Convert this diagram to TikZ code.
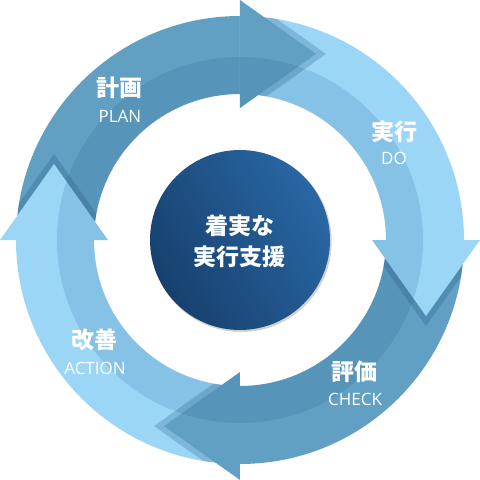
\documentclass[tikz,border=0pt]{standalone}
\usepackage{fontspec}
\newfontfamily\cjk{Noto Sans CJK JP}
\newfontfamily\latf{Open Sans}
\usetikzlibrary{calc}
\definecolor{dk}{HTML}{62A0C3}
\definecolor{lt}{HTML}{9BD6F7}
\definecolor{band}{RGB}{30,90,140}
\definecolor{shd}{RGB}{20,70,110}
\definecolor{hubA}{HTML}{17406E}
\definecolor{hubB}{HTML}{2967A4}
\begin{document}
\begin{tikzpicture}[x=1pt,y=1pt,
  lab/.style={text=white,font=\cjk\bfseries\fontsize{23}{23}\selectfont,inner sep=0pt},
  sublab/.style={text=white,font=\latf\fontsize{17}{17}\selectfont,inner sep=0pt},
  hubtxt/.style={text=white,font=\cjk\bfseries\fontsize{23}{31}\selectfont,align=center,inner sep=0pt}]
\useasboundingbox (-240,-240) rectangle (240,240);
% ring segments
\foreach \a/\c in {180/dk,90/lt,0/dk,-90/lt}{
  \pgfmathsetmacro\e{\a-90}
  \fill[\c] (\a:224) arc[start angle=\a,end angle=\e,radius=224] -- (\e:146)
     arc[start angle=\e,end angle=\a,radius=146] -- cycle;
  \fill[band,opacity=.16] (\a:183) arc[start angle=\a,end angle=\e,radius=183] -- (\e:146)
     arc[start angle=\e,end angle=\a,radius=146] -- cycle;
}
% arrow heads with shadows
\foreach \a/\c in {180/dk,90/lt,0/dk,-90/lt}{
  \pgfmathsetmacro\e{\a-90}
  \pgfmathsetmacro\t{\a-180}
  \coordinate (b1) at (\e:132);
  \coordinate (b2) at (\e:240);
  \coordinate (tp) at ($(\e:186)+(\t:76)$);
  \coordinate (sv) at (\t:10);
  \begin{scope}[even odd rule]
    \clip (0,0) circle[radius=224] (0,0) circle[radius=146];
    \fill[shd,opacity=.22] ($(b1)+(sv)$) -- ($(b2)+(sv)$) -- ($(tp)+(sv)$) -- cycle;
  \end{scope}
  \fill[\c] (b1) -- (b2) -- (tp) -- cycle;
  \begin{scope}
    \clip (b1) -- (b2) -- (tp) -- cycle;
    \fill[band,opacity=.16] (0,0) circle[radius=183];
  \end{scope}
}
% hub
\fill[black,opacity=.18] (1.2,-1.5) circle[radius=90.5];
\shade[top color=hubB,bottom color=hubA,shading angle=-60] (0,0) circle[radius=90];
\node[hubtxt] (hub) at (0,-1.5) {着実な\\実行支援};
% labels
\node[lab] (plan) at (-120,152) {計画};
\node[sublab] (planE) at (-120,124) {PLAN};
\node[lab] (do) at (155,108) {実行};
\node[sublab] (doE) at (154,82) {DO};
\node[lab] (act) at (-145,-100) {改善};
\node[sublab] (actE) at (-145,-128) {ACTION};
\node[lab] (chk) at (115,-132) {評価};
\node[sublab] (chkE) at (115,-159) {CHECK};
\end{tikzpicture}
\end{document}
